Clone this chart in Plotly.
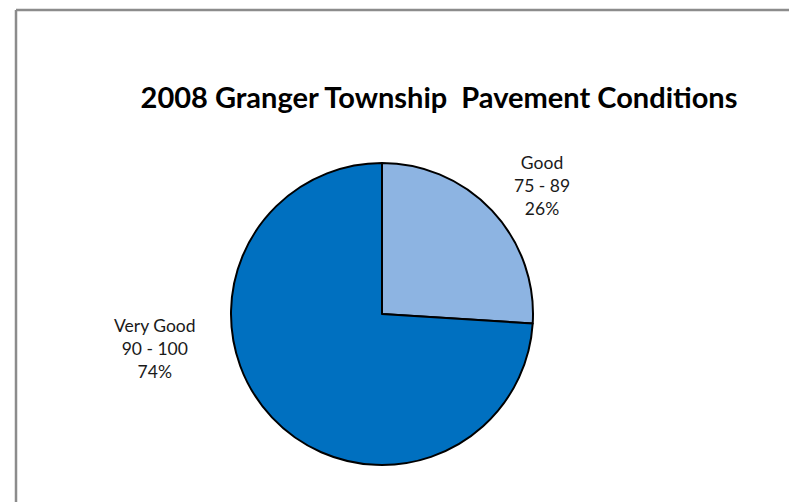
"""
2008 Granger Township Pavement Conditions - pie chart
"""

import plotly.graph_objects as go

# Data
conditions = ["Good", "Very Good"]
score_ranges = ["75 - 89", "90 - 100"]
shares = [26, 74]
colors = ["#8DB4E2", "#0070C0"]

W, H = 789, 502

fig = go.Figure()

fig.add_trace(go.Pie(
    labels=conditions,
    values=shares,
    sort=False,
    direction="clockwise",
    rotation=0,
    marker=dict(colors=colors, line=dict(color="black", width=2)),
    textinfo="none",
    hoverinfo="label+percent",
    showlegend=False,
    domain=dict(x=[(382 - 151) / W, (382 + 151) / W],
                y=[1 - 465 / H, 1 - 163 / H]),
))

# Data labels, placed outside slices like the original
label_pos = {"Good": (542, 185), "Very Good": (155, 348)}
for name, rng, pct in zip(conditions, score_ranges, shares):
    px_x, px_y = label_pos[name]
    fig.add_annotation(
        x=px_x / W, y=1 - px_y / H, xref="paper", yref="paper",
        xanchor="center", yanchor="middle",
        text=f"{name}<br>{rng}<br>{pct}%",
        showarrow=False, align="center",
        font=dict(family="Lato", size=17.5, color="#1a1a1a"),
    )

# Chart frame (only top and left edges visible in the crop)
fig.add_shape(type="line", xref="paper", yref="paper",
              x0=16 / W, x1=1.01, y0=1 - 10 / H, y1=1 - 10 / H,
              line=dict(color="#8c8c8c", width=2.5))
fig.add_shape(type="line", xref="paper", yref="paper",
              x0=16 / W, x1=16 / W, y0=1 - 10 / H, y1=-0.01,
              line=dict(color="#8c8c8c", width=2.5))

fig.update_layout(
    title=dict(
        text="<b>2008 Granger Township  Pavement Conditions</b>",
        x=439 / W, xanchor="center",
        y=1 - 98 / H, yanchor="middle",
        font=dict(family="Lato", size=29, color="black"),
    ),
    width=W,
    height=H,
    margin=dict(l=0, r=0, t=0, b=0),
    paper_bgcolor="white",
    plot_bgcolor="white",
)

fig.write_html("out.html", config={"displayModeBar": False},
               post_script="document.body.style.margin='0px';")
